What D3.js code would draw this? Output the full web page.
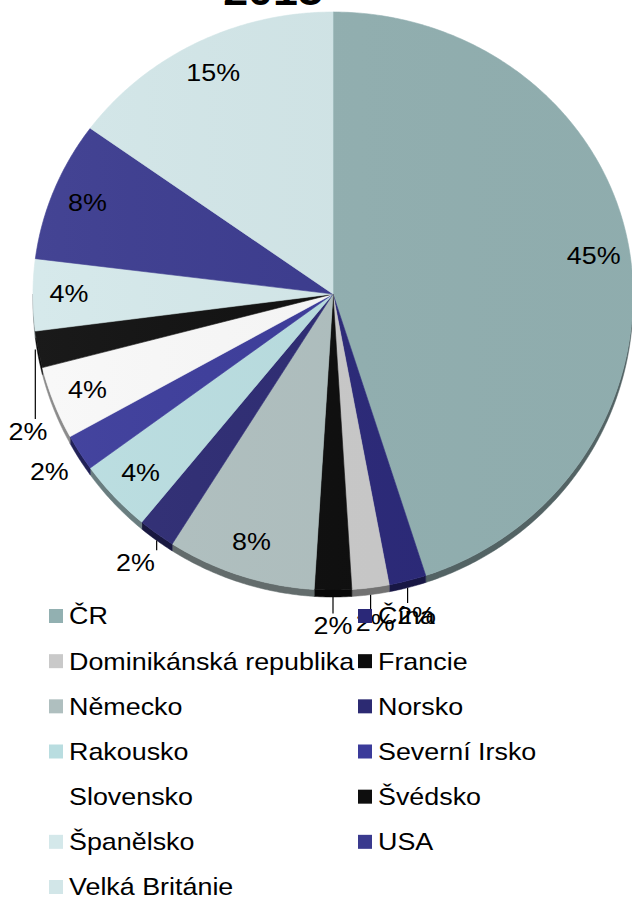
<!DOCTYPE html>
<html>
<head>
<meta charset="utf-8">
<script src="https://cdn.jsdelivr.net/npm/d3@7"></script>
<style>
  html, body { margin: 0; padding: 0; background: #fff; }
  svg { display: block; }
  text { font-family: "Liberation Sans", Arial, sans-serif; fill: #000; }
</style>
</head>
<body>
<div id="chart"></div>
<script>
// ---------------------------------------------------------------------
// data (share in %)
// ---------------------------------------------------------------------
const countries = ['ČR', 'Čína', 'Dominikánská republika', 'Francie', 'Německo', 'Norsko',
    'Rakousko', 'Severní Irsko', 'Slovensko', 'Švédsko', 'Španělsko', 'USA', 'Velká Británie'];
const shares = [45, 2, 2, 2, 8, 2, 4, 2, 4, 2, 4, 8, 15];
const sliceColors = ['#92b0b1', '#2a2878', '#c9c9c9', '#0c0c0c', '#afbfbf', '#2c2a72',
    '#b9dde0', '#3b3b9a', '#f8f8f8', '#0e0e0e', '#d4e8ea', '#3a3a8e', '#d2e6e8'];
const titleText = '2015';

// ---------------------------------------------------------------------
// layout
// ---------------------------------------------------------------------
const width = 632, height = 900;
const cx = 333, cy = 294;
const rx = 300, ryTop = 282, ryBot = 296;
const depth = 7;
const stretch = 1.12;      // source picture is a bit wider than tall
const fontSize = 24;

const svg = d3.select('#chart').append('svg')
    .attr('width', width)
    .attr('height', height);

// angle clockwise from 12 o'clock -> point on the tilted pie
function proj(a, r) {
    const dy = -Math.cos(a);
    return [cx + r * rx * Math.sin(a), cy + r * (dy < 0 ? ryTop : ryBot) * dy];
}

function arcPoints(a0, a1, r, shift) {
    const n = Math.max(2, Math.ceil((a1 - a0) / 0.01));
    return d3.range(n + 1).map(i => {
        const p = proj(a0 + (a1 - a0) * i / n, r);
        return [p[0], p[1] + (shift || 0)];
    });
}

const line = d3.line();

const pie = d3.pie().sort(null).value(d => d.v);
const arcs = pie(countries.map((c, i) => ({ name: c, v: shares[i], color: sliceColors[i] })));

// stretched text helper
function stretchedText(g, x, y, str, anchor, size, weight) {
    return g.append('text')
        .attr('transform', `translate(${x},${y}) scale(${stretch},1)`)
        .attr('text-anchor', anchor)
        .attr('dominant-baseline', 'central')
        .style('font-size', size + 'px')
        .style('font-weight', weight || 'normal')
        .text(str);
}

// ---------------------------------------------------------------------
// side of the pie (front half only)
// ---------------------------------------------------------------------
const sideG = svg.append('g');
arcs.forEach(d => {
    const a0 = Math.max(d.startAngle, Math.PI / 2);
    const a1 = Math.min(d.endAngle, Math.PI * 1.5);
    if (a1 <= a0) return;
    const top = arcPoints(a0, a1, 1, 0);
    const bottom = arcPoints(a0, a1, 1, depth).reverse();
    sideG.append('path')
        .attr('d', line(top.concat(bottom)) + 'Z')
        .attr('fill', d3.color(d.data.color).darker(1.6))
        .attr('stroke', d3.color(d.data.color).darker(1.6))
        .attr('stroke-width', 0.5);
});

// ---------------------------------------------------------------------
// top faces
// ---------------------------------------------------------------------
const topG = svg.append('g');
arcs.forEach(d => {
    const pts = [[cx, cy]].concat(arcPoints(d.startAngle, d.endAngle, 1, 0));
    topG.append('path')
        .attr('d', line(pts) + 'Z')
        .attr('fill', d.data.color)
        .attr('stroke', d.data.color)
        .attr('stroke-width', 0.6);
});

// very soft light from the left
const defs = svg.append('defs');
const grad = defs.append('linearGradient').attr('id', 'shine')
    .attr('x1', '0%').attr('x2', '100%').attr('y1', '0%').attr('y2', '0%');
grad.append('stop').attr('offset', '0%').attr('stop-color', '#fff').attr('stop-opacity', 0.05);
grad.append('stop').attr('offset', '100%').attr('stop-color', '#000').attr('stop-opacity', 0.02);
topG.append('path')
    .attr('d', line([[cx, cy]].concat(arcPoints(0, Math.PI * 2, 1, 0))) + 'Z')
    .attr('fill', 'url(#shine)');

// ---------------------------------------------------------------------
// data labels
// ---------------------------------------------------------------------
const labelG = svg.append('g');
const labelNudge = { 'Švédsko': [25, 75] };
arcs.forEach(d => {
    const mid = (d.startAngle + d.endAngle) / 2;
    const outside = d.data.v < 3;
    let [x, y] = proj(mid, outside ? 1.12 : 0.88);
    const nudge = labelNudge[d.data.name];
    if (nudge) { x += nudge[0]; y += nudge[1]; }
    stretchedText(labelG, x, y, d.data.v + '%', 'middle', fontSize);
    if (outside) {
        const e = proj(mid, 1);
        const isFront = Math.cos(mid) < 0;
        const ex = nudge ? e[0] - 3 : e[0];
        const ey = e[1] + (isFront && !nudge ? depth : 0);
        const ty = y - fontSize * 0.5;
        if (ty - ey > 4) {
            labelG.append('path')
                .attr('d', line([[ex, ey], [ex, ty]]))
                .attr('stroke', '#000')
                .attr('stroke-width', 1.2)
                .attr('fill', 'none');
        }
    }
});

// ---------------------------------------------------------------------
// title (cut off by the top edge)
// ---------------------------------------------------------------------
svg.append('text')
    .attr('transform', `translate(273,5) scale(${stretch},1)`)
    .attr('text-anchor', 'middle')
    .style('font-size', '40px')
    .style('font-weight', 'bold')
    .text(titleText);

// ---------------------------------------------------------------------
// legend, two columns, row-major
// ---------------------------------------------------------------------
const legendG = svg.append('g');
const colX = d3.scaleOrdinal().domain([0, 1]).range([49, 358]);
const rowY = d3.scaleLinear().domain([0, 6]).range([616, 887]);
arcs.forEach((d, i) => {
    const col = i % 2, row = Math.floor(i / 2);
    const x = colX(col), y = rowY(row);
    legendG.append('rect')
        .attr('x', x).attr('y', y - 7)
        .attr('width', 14).attr('height', 14)
        .attr('fill', d.data.color === '#f8f8f8' ? '#fff' : d.data.color);
    stretchedText(legendG, x + 20, y, d.data.name, 'start', fontSize);
});
</script>
</body>
</html>
